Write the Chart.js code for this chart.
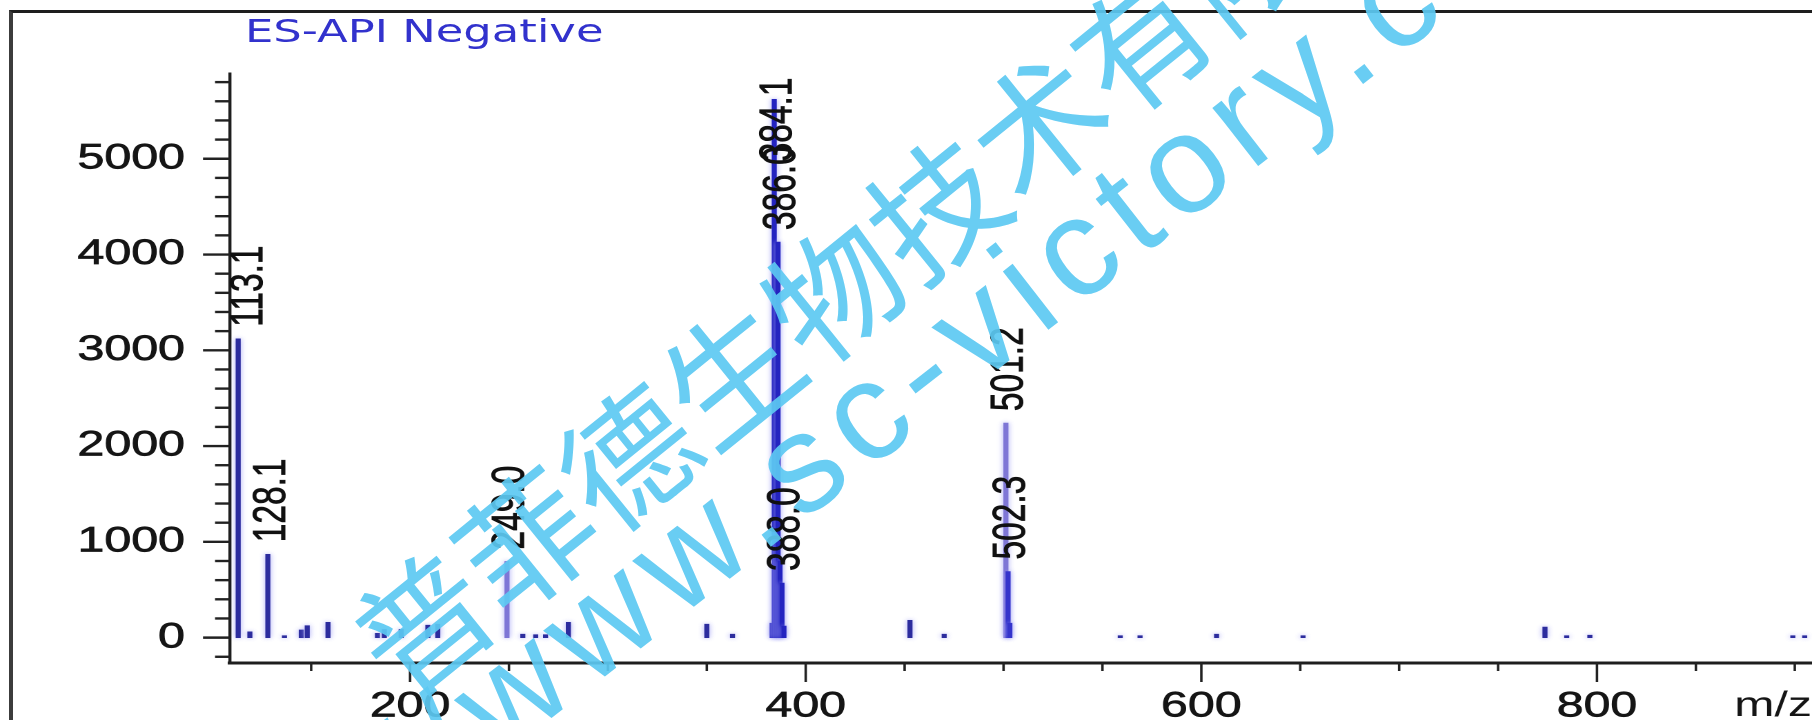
<!DOCTYPE html>
<html>
<head>
<meta charset="utf-8">
<title>ES-API Negative</title>
<script src="https://cdn.jsdelivr.net/npm/chart.js@4.4.1/dist/chart.umd.min.js"></script>
<style>
  html, body { margin: 0; padding: 0; background: #fff; }
  body { width: 1812px; height: 720px; overflow: hidden; position: relative; }
  #frame { position: absolute; left: 9px; top: 10px; width: 1900px; height: 800px;
           border-left: 4px solid #3c3c3c; border-top: 3px solid #1e1e1e; }
  #spectrum { position: absolute; left: 0; top: 0; }
  #caption { position: absolute; left: 245px; top: 15px; white-space: nowrap;
             font: 32.5px/1 "DejaVu Sans", sans-serif; color: #3232cd;
             transform: scaleX(1.38); transform-origin: 0 0; }
  .mark { position: absolute; white-space: nowrap; color: #5dc9f2; opacity: .92; }
  #wm-cn { left: 368px; top: 594px; font: 132px/1 "Noto Sans CJK SC", sans-serif;
           transform-origin: 0 66px; transform: rotate(-39deg); }
  #wm-url { left: 134px; top: 916px; font: 140px/1 "Liberation Sans", sans-serif; letter-spacing: 12px;
            transform-origin: 0 80px; transform: rotate(-38deg); }
</style>
</head>
<body>
<div id="frame"></div>
<!-- the printout is stretched sideways: the chart is drawn 1313 wide and shown 1812 wide -->
<canvas id="spectrum" width="1313" height="720" style="width:1812px;height:720px"
        role="img" aria-label="ES-API negative mass spectrum"></canvas>
<div id="caption">ES-API Negative</div>
<div class="mark" id="wm-cn">普菲德生物技术有限公司</div>
<div class="mark" id="wm-url">http://www.sc-victory.com</div>

<script>
// peak list (m/z, abundance)
const mzValues = [113.1, 119.0, 128.1, 136.5, 145.0, 148.0, 158.5, 183.5, 187.0, 195.5,
                  209.0, 214.0, 249.0, 257.0, 263.5, 268.5, 280.0, 350.0, 363.0,
                  383.0, 384.1, 385.1, 386.0, 387.0, 388.0, 389.0, 452.7, 470.0,
                  501.2, 502.3, 503.2, 559.0, 569.0, 607.7, 651.4, 773.7, 784.7, 796.4,
                  899.0, 905.0];
const intensities = [3120, 60, 870, 20, 80, 125, 160, 45, 85, 85,
                     130, 140, 795, 35, 30, 30, 160, 140, 35,
                     150, 5620, 1100, 4130, 800, 570, 120, 180, 35,
                     2240, 690, 150, 20, 20, 35, 20, 110, 20, 25,
                     20, 20];
const peakLabels = ['113.1', '128.1', '249.0', '384.1', '386.0', '388.0', '501.2', '502.3'];
const yTickLabels = [0, 1000, 2000, 3000, 4000, 5000];
const xTickLabels = [200, 400, 600, 800];

function lineColour(m) {
  if (m === 249.0 || m === 501.2) return '#7e76d6';
  if (m >= 383 && m <= 389) return '#2424c0';
  if (m > 502 && m < 504) return '#3434cc';
  return '#2c2c9e';
}

// soft lavender halo around the stick lines
const haloPlugin = {
  id: 'halo',
  beforeDatasetsDraw(chart) {
    chart.ctx.save();
    chart.ctx.shadowColor = 'rgba(150, 150, 245, 0.85)';
    chart.ctx.shadowBlur = 8;
  },
  afterDatasetsDraw(chart) {
    chart.ctx.restore();
  }
};

// rotated m/z labels above the main peaks
const peakLabelPlugin = {
  id: 'peakLabels',
  afterDatasetsDraw(chart) {
    const { ctx, chartArea } = chart;
    const meta = chart.getDatasetMeta(0);
    ctx.save();
    ctx.font = '33.5px "Liberation Sans", Arial, sans-serif';
    ctx.fillStyle = '#111';
    ctx.strokeStyle = '#111';
    ctx.lineWidth = 0.6;
    ctx.textBaseline = 'middle';
    ctx.textAlign = 'left';
    mzValues.forEach((m, i) => {
      const text = m.toFixed(1);
      if (!peakLabels.includes(text)) return;
      const bar = meta.data[i];
      const w = ctx.measureText(text).width;
      // keep the text inside the plot when the peak is near the top
      const start = Math.max(bar.y - 12, chartArea.top + 4 + w);
      ctx.save();
      ctx.translate(Math.max(bar.x + 3, chartArea.left + 14), start);
      ctx.rotate(-Math.PI / 2);
      ctx.fillText(text, 0, 0);
      ctx.strokeText(text, 0, 0);
      ctx.restore();
    });
    ctx.restore();
  }
};

// major and minor tick marks sit outside the plot, with two lengths
const axisTicksPlugin = {
  id: 'axisTicks',
  afterDraw(chart) {
    const { ctx, chartArea, scales: { x, y } } = chart;
    ctx.save();
    ctx.strokeStyle = '#222';
    ctx.lineWidth = 2.4;
    for (let v = -200; v <= 5800; v += 200) {
      const py = y.getPixelForValue(v);
      const len = v % 1000 === 0 ? 19.6 : 10.9;
      ctx.beginPath();
      ctx.moveTo(chartArea.left - len, py);
      ctx.lineTo(chartArea.left, py);
      ctx.stroke();
    }
    ctx.lineWidth = 1.8;
    for (let v = 150; v <= 900; v += 50) {
      const px = x.getPixelForValue(v);
      const len = v % 200 === 0 ? 19 : 8;
      ctx.beginPath();
      ctx.moveTo(px, chartArea.bottom);
      ctx.lineTo(px, chartArea.bottom + len);
      ctx.stroke();
    }
    ctx.restore();
  }
};

const tickFont = { family: '"Liberation Sans", Arial, sans-serif', size: 35 };

new Chart(document.getElementById('spectrum'), {
  type: 'bar',
  data: {
    datasets: [{
      data: mzValues.map((m, i) => ({ x: m, y: intensities[i] })),
      backgroundColor: (c) => lineColour(mzValues[c.dataIndex]),
      borderWidth: 0,
      barThickness: 3,
      grouped: false
    }]
  },
  options: {
    responsive: false,
    devicePixelRatio: 2,
    animation: false,
    layout: { padding: { top: 73.5, left: 0, right: 0, bottom: 0 } },
    plugins: {
      legend: { display: false },
      tooltip: { enabled: false },
      title: { display: false }
    },
    scales: {
      x: {
        type: 'linear',
        min: 109,
        max: 908.7,
        offset: false,
        grid: { display: false, drawTicks: false },
        border: { display: true, color: '#1e1e1e', width: 3 },
        afterBuildTicks: (scale) => { scale.ticks = xTickLabels.map(v => ({ value: v })); },
        ticks: {
          autoSkip: false,
          maxRotation: 0,
          padding: 0,
          color: '#151515',
          textStrokeColor: '#151515',
          textStrokeWidth: 0.7,
          font: { ...tickFont, lineHeight: '88px' },
          callback: (v) => String(v)
        },
        title: {
          display: true,
          text: 'm/z',
          align: 'end',
          color: '#151515',
          font: { ...tickFont, lineHeight: 0.6 },
          padding: { top: 0, bottom: 3 }
        },
        afterFit: (scale) => { scale.height = 57; }
      },
      y: {
        min: -265,
        max: 5890,
        grid: { display: false, drawTicks: false },
        border: { display: true, color: '#1e1e1e', width: 2.2 },
        afterBuildTicks: (scale) => { scale.ticks = yTickLabels.map(v => ({ value: v })); },
        ticks: {
          autoSkip: false,
          padding: 32.7,
          color: '#151515',
          textStrokeColor: '#151515',
          textStrokeWidth: 0.7,
          font: tickFont,
          callback: (v) => String(v)
        },
        afterFit: (scale) => { scale.width = 166.7; }
      }
    }
  },
  plugins: [haloPlugin, peakLabelPlugin, axisTicksPlugin]
});
</script>
</body>
</html>
